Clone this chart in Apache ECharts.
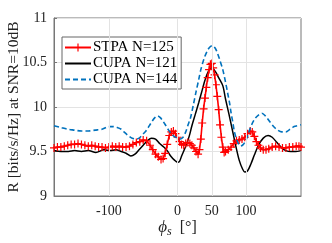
<!DOCTYPE html>
<html><head><meta charset="utf-8">
<script src="https://cdn.jsdelivr.net/npm/echarts@6/dist/echarts.min.js"></script>
<style>html,body{margin:0;padding:0;background:#fff}#c{width:332px;height:243px}</style>
</head><body><div id="c"></div>
<script>
// STPA N=125
const stpaPhi = [-180,-175,-170,-165,-160,-155,-150,-145,-140,-135,-130,-125,-120,-115,-110,-105,-100,-95,-90,-85,-80,-75,-70,-65,-60,-55,-50,-45,-40,-36,-32,-28,-24,-21,-18,-15,-12,-9,-6,-3,0,3,6,9,12,15,18,21,24,27,30,32,34,36,38,40,42,44,46,48,50,52,54,56,58,60,62,64,66,68,70,74,78,82,86,90,94,98,102,106,109,112,115,118,121,125,129,133,138,143,148,153,158,163,168,173,177,180];
const stpaR = [9.54,9.55,9.55,9.56,9.57,9.58,9.58,9.59,9.58,9.57,9.56,9.57,9.56,9.55,9.55,9.54,9.55,9.56,9.55,9.56,9.55,9.55,9.56,9.58,9.60,9.61,9.63,9.62,9.57,9.52,9.47,9.44,9.41,9.42,9.48,9.58,9.68,9.72,9.73,9.70,9.66,9.61,9.58,9.57,9.59,9.60,9.59,9.57,9.54,9.50,9.47,9.52,9.64,9.82,9.98,10.10,10.22,10.33,10.42,10.48,10.49,10.44,10.36,10.25,10.12,9.97,9.80,9.66,9.55,9.49,9.50,9.52,9.55,9.59,9.62,9.63,9.64,9.66,9.70,9.73,9.72,9.67,9.61,9.57,9.54,9.52,9.52,9.53,9.55,9.56,9.55,9.54,9.54,9.55,9.55,9.56,9.56,9.55];
// CUPA N=121
const cupa121Phi = [-180,-170,-159,-150,-140,-130,-119,-107,-98,-90,-82,-75,-68,-62,-56,-50,-44,-38,-32,-26,-20,-15,-10,-4,0,3,6,12,17,21,26,31,36,40,45,50,55,60,66,70,75,80,85,90,95,98,102,107,112,118,125,132,138,145,152,158,165,172,180];
const cupa121R = [9.51,9.50,9.50,9.51,9.50,9.51,9.49,9.52,9.51,9.52,9.50,9.48,9.45,9.47,9.52,9.57,9.62,9.65,9.64,9.59,9.55,9.51,9.45,9.40,9.38,9.39,9.45,9.56,9.67,9.79,9.92,10.05,10.19,10.30,10.40,10.44,10.40,10.33,10.24,10.09,9.92,9.74,9.56,9.40,9.30,9.27,9.28,9.36,9.46,9.57,9.65,9.68,9.66,9.60,9.54,9.51,9.50,9.50,9.51];
// CUPA N=144
const cupa144Phi = [-180,-170,-160,-150,-140,-130,-120,-110,-100,-94,-88,-82,-78,-72,-66,-60,-56,-51,-46,-41,-37,-33,-29,-25,-21,-17,-13,-9,-5,0,4,8,12,15,19,23,27,31,34,39,44,48,51,55,58,62,66,70,73,76,78,81,83,87,92,96,100,104,108,113,118,123,128,134,140,146,152,158,164,170,175,180];
const cupa144R = [9.79,9.77,9.75,9.74,9.73,9.73,9.74,9.75,9.78,9.78,9.77,9.75,9.72,9.68,9.65,9.64,9.65,9.69,9.73,9.79,9.84,9.88,9.90,9.88,9.84,9.79,9.74,9.70,9.67,9.65,9.64,9.66,9.72,9.79,9.88,10.02,10.17,10.31,10.42,10.55,10.64,10.68,10.69,10.66,10.61,10.52,10.42,10.28,10.16,10.04,9.94,9.81,9.72,9.62,9.56,9.58,9.63,9.72,9.80,9.87,9.91,9.93,9.90,9.84,9.78,9.74,9.72,9.72,9.75,9.78,9.79,9.80];
const xTicks = [-100, 0, 50, 100];
const seriesNames = ['STPA N=125', 'CUPA N=121', 'CUPA N=144'];

const zip = (a, b) => a.map((v, i) => [v, b[i]]);
const serif = 'Liberation Serif';
const plus = 'path://M0,4.25H10V5.75H0Z M4.25,0H5.75V10H4.25Z';
const noSym = {color: 'rgba(0,0,0,0)', borderColor: 'rgba(0,0,0,0)', borderWidth: 0};

const chart = echarts.init(document.getElementById('c'), null, {renderer: 'canvas'});
chart.setOption({
  animation: false,
  backgroundColor: '#fff',
  grid: {left: 54, right: 31, top: 18, bottom: 47, containLabel: false, outerBoundsMode: 'none',
         show: true, borderColor: '#777', borderWidth: 1, backgroundColor: 'transparent'},
  legend: {
    orient: 'vertical', left: 62, top: 37,
    data: [
      {name: seriesNames[0]},
      {name: seriesNames[1], itemStyle: noSym},
      {name: seriesNames[2], itemStyle: noSym}
    ],
    itemWidth: 26, itemHeight: 10, itemGap: 1,
    padding: [3, 4, 2, 2],
    borderColor: '#666', borderWidth: 1, backgroundColor: '#fff',
    textStyle: {fontFamily: serif, fontSize: 15, color: '#000', padding: [0, 0, 0, -3]}
  },
  xAxis: {
    type: 'value', min: -180, max: 180,
    axisLine: {show: true, onZero: false, lineStyle: {color: '#777'}},
    axisTick: {show: true, inside: true, length: 3, customValues: xTicks, lineStyle: {color: '#777'}},
    axisLabel: {customValues: xTicks, fontFamily: serif, fontSize: 14, color: '#222', margin: 8},
    splitLine: {show: false},
    name: '{i|ϕ}{s|s}{n|  [°]}', nameLocation: 'middle', nameGap: 22, nameMoveOverlap: false,
    nameTextStyle: {rich: {
      i: {fontFamily: serif, fontStyle: 'italic', fontSize: 17, color: '#222'},
      s: {fontFamily: serif, fontStyle: 'italic', fontSize: 12, color: '#222', padding: [8, 0, 0, 0]},
      n: {fontFamily: serif, fontSize: 16, color: '#222'}
    }}
  },
  yAxis: {
    type: 'value', min: 9, max: 11, interval: 0.5,
    axisLine: {show: true, onZero: false, lineStyle: {color: '#777'}},
    axisTick: {show: true, inside: true, length: 3, lineStyle: {color: '#777'}},
    axisLabel: {fontFamily: serif, fontSize: 14, color: '#222', margin: 7},
    splitLine: {show: true, lineStyle: {color: '#e3e3e3', width: 1}},
    name: 'R [bits/s/Hz] at SNR=10dB', nameLocation: 'middle', nameGap: 32, nameMoveOverlap: false,
    nameTextStyle: {fontFamily: serif, fontSize: 15.5, color: '#222'}
  },
  series: [
    {name: 'grid', type: 'line', data: [], z: 0, silent: true,
     markLine: {silent: true, symbol: 'none', label: {show: false},
       lineStyle: {color: '#e3e3e3', type: 'solid', width: 1},
       data: xTicks.map(v => ({xAxis: v}))}},
    {name: seriesNames[0], type: 'line', data: zip(stpaPhi, stpaR), z: 3,
     symbol: plus, symbolSize: 8, showSymbol: true, showAllSymbol: true,
     lineStyle: {color: '#ff0000', width: 1.6}, itemStyle: {color: '#ff0000'}},
    {name: seriesNames[1], type: 'line', data: zip(cupa121Phi, cupa121R), z: 2,
     symbol: 'none', smooth: 0.3,
     lineStyle: {color: '#000', width: 1.5}, itemStyle: {color: '#000'}},
    {name: seriesNames[2], type: 'line', data: zip(cupa144Phi, cupa144R), z: 4,
     symbol: 'none', smooth: 0.3,
     lineStyle: {color: '#0072bd', width: 1.6, type: [5, 3]}, itemStyle: {color: '#0072bd'}}
  ]
});
</script></body></html>
